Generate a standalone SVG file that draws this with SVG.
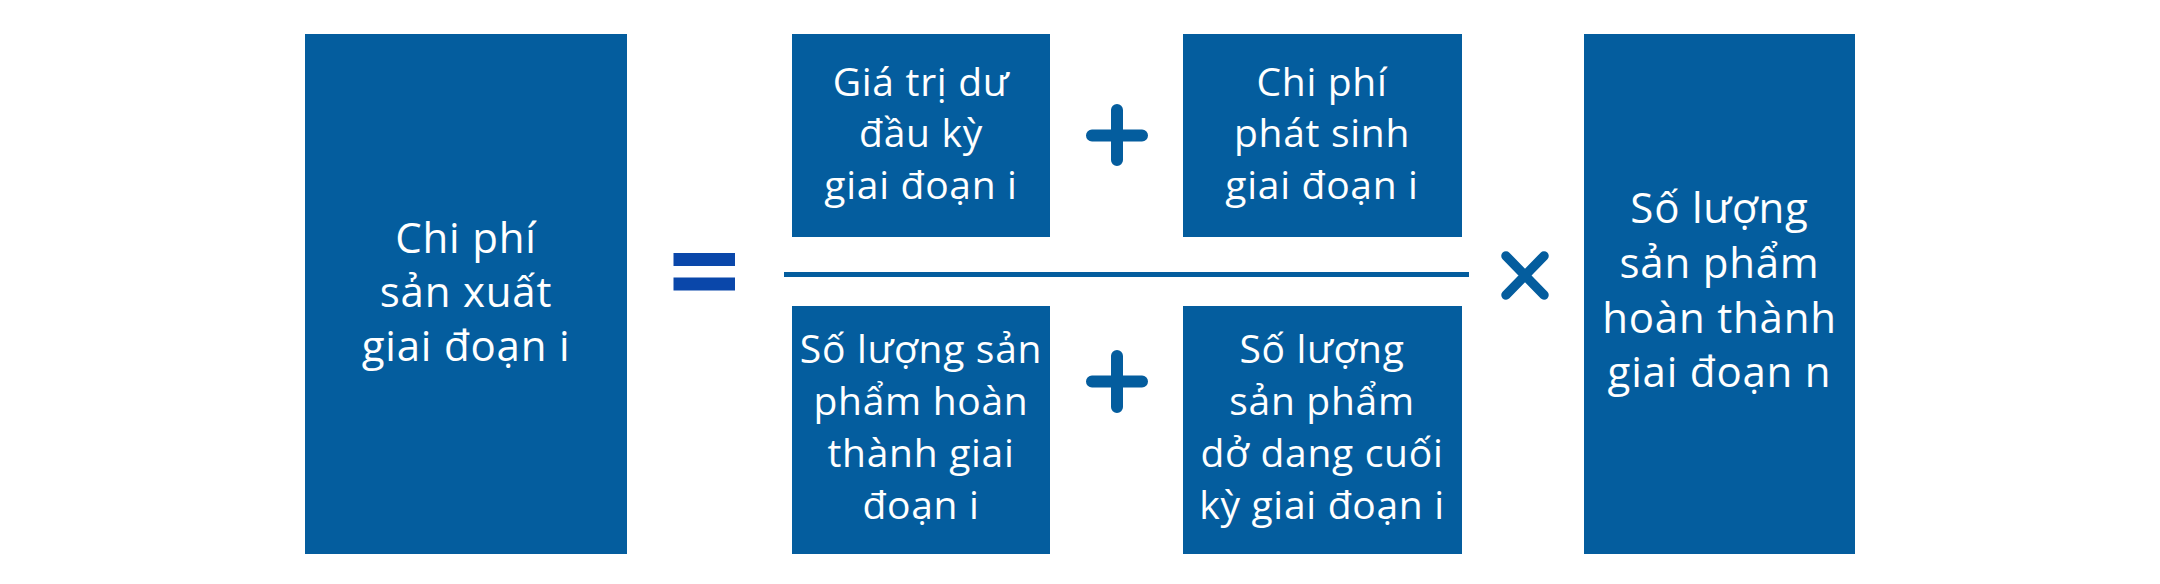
<svg xmlns="http://www.w3.org/2000/svg" width="2160" height="584" viewBox="0 0 2160 584">
<style>
.box{fill:#045d9e}
.t{fill:#ffffff;font-family:"Open Sans","Noto Sans","Liberation Sans",sans-serif;font-weight:500;text-anchor:middle}
.big{font-size:42px;letter-spacing:0.8px}
.sm{font-size:39px;letter-spacing:0.7px}
.op{stroke:#045d9e;stroke-width:12;stroke-linecap:round;fill:none}
.x{stroke-width:9.5}
</style>
<rect width="2160" height="584" fill="#ffffff"/>
<g id="node-left">
<rect class="box" x="305" y="34" width="322" height="520"/>
<text class="t big" x="466" y="253">Chi phí</text>
<text class="t big" x="466" y="307">sản xuất</text>
<text class="t big" x="466" y="361">giai đoạn i</text>
</g>
<g id="node-top-left">
<rect class="box" x="792" y="34" width="258" height="203"/>
<text class="t sm" x="921" y="96">Giá trị dư</text>
<text class="t sm" x="921" y="147">đầu kỳ</text>
<text class="t sm" x="921" y="199">giai đoạn i</text>
</g>
<g id="node-top-right">
<rect class="box" x="1183" y="34" width="279" height="203"/>
<text class="t sm" x="1322" y="96">Chi phí</text>
<text class="t sm" x="1322" y="147">phát sinh</text>
<text class="t sm" x="1322" y="199">giai đoạn i</text>
</g>
<g id="node-bottom-left">
<rect class="box" x="792" y="306" width="258" height="248"/>
<text class="t sm" x="921" y="363">Số lượng sản</text>
<text class="t sm" x="921" y="415">phẩm hoàn</text>
<text class="t sm" x="921" y="467">thành giai</text>
<text class="t sm" x="921" y="519">đoạn i</text>
</g>
<g id="node-bottom-right">
<rect class="box" x="1183" y="306" width="279" height="248"/>
<text class="t sm" x="1322" y="363">Số lượng</text>
<text class="t sm" x="1322" y="415">sản phẩm</text>
<text class="t sm" x="1322" y="467">dở dang cuối</text>
<text class="t sm" x="1322" y="519">kỳ giai đoạn i</text>
</g>
<g id="node-right">
<rect class="box" x="1584" y="34" width="271" height="520"/>
<text class="t big" x="1719.5" y="223">Số lượng</text>
<text class="t big" x="1719.5" y="278">sản phẩm</text>
<text class="t big" x="1719.5" y="333">hoàn thành</text>
<text class="t big" x="1719.5" y="387">giai đoạn n</text>
</g>
<g id="connectors">
<rect x="673.5" y="253" width="61.5" height="13" fill="#0a47aa"/>
<rect x="673.5" y="277.5" width="61.5" height="13" fill="#0a47aa"/>
<rect x="784" y="272" width="685" height="5" fill="#045d9e"/>
<path class="op" d="M1117 110V160M1092 135.5H1142"/>
<path class="op" d="M1117 356V407M1092 381.5H1142"/>
<path class="op x" d="M1506 256L1544 295M1544 256L1506 295"/>
</g>
</svg>
